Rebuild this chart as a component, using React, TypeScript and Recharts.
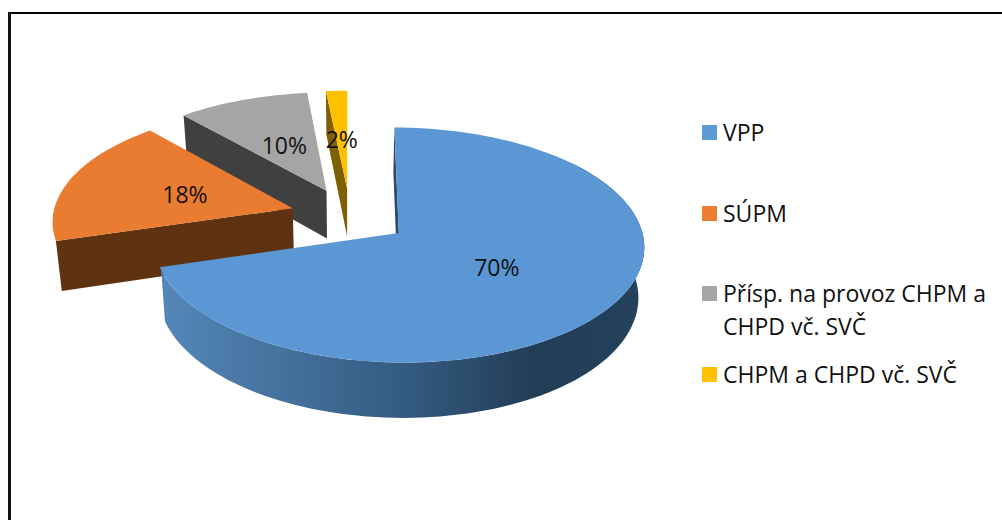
import React from "react"
import { PieChart, Pie, Legend } from "recharts"

const CATEGORIES = ["VPP", "SÚPM", "Přísp. na provoz CHPM a CHPD vč. SVČ", "CHPM a CHPD vč. SVČ"]
const VALUES = [70.4, 18.1, 9.9, 1.6]
const TOP_COLORS = ["#5B97D5", "#E97C30", "#A5A5A5", "#FFC000"]
const SIDE_COLORS = ["#2A4B6B", "#5F3311", "#404040", "#7F6000"]
const LEGEND_COLORS = ["#5B9BD5", "#ED7D31", "#A5A5A5", "#FFC000"]

// back slices first, so the blue one paints over the others
const pieData = CATEGORIES.map((name, i) => ({
    name,
    value: VALUES[i],
    fill: TOP_COLORS[i],
    side: SIDE_COLORS[i],
})).reverse()

// fake 3D: every slice is pulled out of the centre and run through a perspective
const EXPLODE = 0.25
const SQUASH = 0.47
const FOCAL = 10
const DEPTH = 49
const LOW_SCALE = 0.98
const rad = (d: number) => (d * Math.PI) / 180

function project(p: any, midTheta: number, theta: number, r: number, low = false) {
    const X = EXPLODE * Math.sin(rad(midTheta)) + r * Math.sin(rad(theta))
    const Y = -EXPLODE * Math.cos(rad(midTheta)) - r * Math.cos(rad(theta))
    const s = FOCAL / (FOCAL - Y)
    return [
        p.cx + p.outerRadius * X * s * (low ? LOW_SCALE : 1),
        p.cy + p.outerRadius * SQUASH * Y * s + (low ? DEPTH * s : 0),
    ]
}

const toPath = (pts: number[][]) =>
    "M" + pts.map((q) => `${q[0].toFixed(1)},${q[1].toFixed(1)}`).join("L") + "Z"

function arc(p: any, mid: number, from: number, to: number, low = false) {
    const pts = []
    const n = Math.max(2, Math.ceil((to - from) / 2))
    for (let i = 0; i <= n; i++) pts.push(project(p, mid, from + ((to - from) * i) / n, 1, low))
    return pts
}

function Slice3D(props: any) {
    const from = 90 - props.endAngle + 360
    const to = 90 - props.startAngle + 360
    const mid = (from + to) / 2
    const rimFrom = Math.max(from, 50)
    const rimTo = Math.min(to, 252)
    const apex = project(props, mid, from, 0)
    const apexLow = project(props, mid, from, 0, true)
    const wall = [apex, project(props, mid, from, 1), project(props, mid, from, 1, true), apexLow]
    const top = [apex, ...arc(props, mid, from, to)]

    // rim as small quads, so the silhouette on the right is filled too
    let rim = ""
    if (rimTo > rimFrom) {
        const upper = arc(props, mid, rimFrom, rimTo)
        const lower = arc(props, mid, rimFrom, rimTo, true)
        for (let i = 0; i < upper.length - 1; i++) {
            rim += toPath([upper[i], upper[i + 1], lower[i + 1], lower[i]])
        }
    }
    return (
        <g>
            {rim && <path d={rim} fill="url(#rimBlue)" />}
            <path d={toPath(wall)} fill={props.payload?.side ?? props.side} />
            <path d={toPath(top)} fill={props.fill} />
        </g>
    )
}

function SliceLabel(props: any) {
    const theta = 90 - props.midAngle
    const q = project(props, theta, theta, 0.48)
    return (
        <text x={q[0]} y={q[1]} fill="#111" fontSize={23} textAnchor="middle" dominantBaseline="central">
            {Math.round(props.percent * 100)}%
        </text>
    )
}

const LEGEND_TOPS = [116, 197, 277, 358]

function ChartLegend() {
    return (
        <div style={{ position: "relative", width: 300, height: 300 }}>
            {CATEGORIES.map((name, i) => (
                <div key={name} style={{ position: "absolute", left: 0, top: LEGEND_TOPS[i] - 116, width: 296 }}>
                    <span
                        style={{
                            position: "absolute",
                            left: 0,
                            top: 9,
                            width: 15,
                            height: 15,
                            background: LEGEND_COLORS[i],
                        }}
                    />
                    <div style={{ marginLeft: 21, fontSize: 23, lineHeight: "33px", color: "#111" }}>{name}</div>
                </div>
            ))}
        </div>
    )
}

export default function App() {
    return (
        <div style={{ position: "absolute", left: 0, top: 0, width: 1002, height: 520, overflow: "hidden", background: "#fff", fontFamily: "'Open Sans'" }}>
            <div style={{ position: "absolute", left: 8, top: 12, right: 0, bottom: 0, borderTop: "2px solid #000", borderLeft: "3px solid #111" }} />
            <PieChart width={1002} height={520} margin={{ top: 0, right: 0, bottom: 0, left: 0 }} style={{ position: "absolute", left: 0, top: 0 }}>
                <defs>
                    <linearGradient id="rimBlue" gradientUnits="userSpaceOnUse" x1={160} y1={0} x2={640} y2={0}>
                        <stop offset="0" stopColor="#5487B9" />
                        <stop offset="0.5" stopColor="#355C82" />
                        <stop offset="0.78" stopColor="#223D56" />
                        <stop offset="1" stopColor="#24425D" />
                    </linearGradient>
                </defs>
                <Pie
                    data={pieData}
                    dataKey="value"
                    nameKey="name"
                    cx={350}
                    cy={216}
                    outerRadius={240}
                    startAngle={90}
                    endAngle={450}
                    stroke="none"
                    isAnimationActive={false}
                    shape={Slice3D}
                    label={SliceLabel}
                    labelLine={false}
                />
                <Legend content={ChartLegend} wrapperStyle={{ position: "absolute", left: 702, top: 116, width: 300, height: 300 }} />
            </PieChart>
        </div>
    )
}
